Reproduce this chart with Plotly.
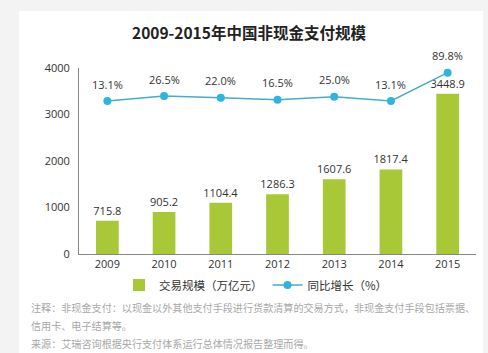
import plotly.graph_objects as go

years = [2009, 2010, 2011, 2012, 2013, 2014, 2015]
volume = [715.8, 905.2, 1104.4, 1286.3, 1607.6, 1817.4, 3448.9]
growth = [13.1, 26.5, 22.0, 16.5, 25.0, 13.1, 89.8]
growth_labels = ["13.1%", "26.5%", "22.0%", "16.5%", "25.0%", "13.1%", "89.8%"]
year_labels = ["2009", "2010", "2011", "2012", "2013", "2014", "2015"]
y_ticks = [0, 1000, 2000, 3000, 4000]

title_text = "2009-2015年中国非现金支付规模"
bar_name = "交易规模（万亿元）"
line_name = "同比增长（%）"
notes = [
    "注释：非现金支付：以现金以外其他支付手段进行货款清算的交易方式，非现金支付手段包括票据、",
    "信用卡、电子结算等。",
    "来源：艾瑞咨询根据央行支付体系运行总体情况报告整理而得。",
]

FONT = "Noto Sans CJK SC, Open Sans, sans-serif"
NUMFONT = "Open Sans, Liberation Sans, sans-serif"
BAR_COLOR = "#a8c838"
LINE_COLOR = "#45adc9"
MARKER_COLOR = "#2db5e0"

fig = go.Figure()
fig.add_trace(go.Bar(
    x=years, y=volume, name=bar_name, width=0.4,
    marker=dict(color=BAR_COLOR, line=dict(width=0)),
    text=[f"{v:.1f}" for v in volume], textposition="outside",
    constraintext="none",
    textfont=dict(family=NUMFONT, size=11, color="#333333"),
    cliponaxis=False,
))
fig.add_trace(go.Scatter(
    x=years, y=growth, name=line_name, yaxis="y2", mode="lines+markers",
    line=dict(color=LINE_COLOR, width=1.5),
    marker=dict(color=MARKER_COLOR, size=8),
    cliponaxis=False,
))

annotations = []
for yr, g, lab in zip(years, growth, growth_labels):
    annotations.append(dict(
        x=yr, y=g, xref="x", yref="y2", text=lab, showarrow=False,
        yshift=17, font=dict(family=NUMFONT, size=11, color="#333333"),
    ))

annotations.append(dict(
    x=(249 - 79) / 397, y=(254 - 32) / 186, xref="paper", yref="paper",
    text=f"<b>{title_text}</b>", showarrow=False, xanchor="center", yanchor="middle",
    font=dict(family=FONT, size=15.5, color="#222222"),
))
note_ys = [307, 325, 343]
for txt, py in zip(notes, note_ys):
    annotations.append(dict(
        x=(29 - 79) / 397, y=(254 - py) / 186, xref="paper", yref="paper",
        text=txt, showarrow=False, xanchor="left", yanchor="middle",
        font=dict(family=FONT, size=10.1, color="#a8a8a8"),
    ))

fig.update_layout(
    width=488, height=353,
    margin=dict(l=79, r=12, t=68, b=99, pad=0),
    paper_bgcolor="#f3f3f3", plot_bgcolor="white",
    font=dict(family=FONT, size=11, color="#333333"),
    showlegend=True,
    legend=dict(
        orientation="h", x=(256 - 79) / 397, xanchor="center",
        y=(254 - 285) / 186, yanchor="middle",
        font=dict(family=FONT, size=11.5, color="#333333"),
        bgcolor="rgba(0,0,0,0)", itemwidth=30, tracegroupgap=0,
    ),
    xaxis=dict(
        type="linear", range=[2008.5, 2015.5],
        tickvals=years, ticktext=year_labels,
        showline=True, linecolor="#888888", linewidth=1, ticks="",
        tickfont=dict(family=NUMFONT, size=11, color="#333333"),
        showgrid=False, zeroline=False,
    ),
    yaxis=dict(
        range=[0, 4000], tickvals=y_ticks, showline=True, linecolor="#888888",
        linewidth=1, ticks="", showgrid=False, zeroline=False,
        tickfont=dict(family=NUMFONT, size=11, color="#333333"), ticklabelstandoff=6,
    ),
    yaxis2=dict(
        overlaying="y", side="right", range=[-401, 102.5], visible=False,
        showgrid=False, zeroline=False,
    ),
    annotations=annotations,
    shapes=[dict(
        type="rect", xref="paper", yref="paper",
        x0=(19 - 79) / 397, x1=(483 - 79) / 397,
        y0=(254 - 360) / 186, y1=(254 - 11) / 186,
        fillcolor="white", line=dict(width=0), layer="below",
    )],
)

fig.write_html("out.html")
